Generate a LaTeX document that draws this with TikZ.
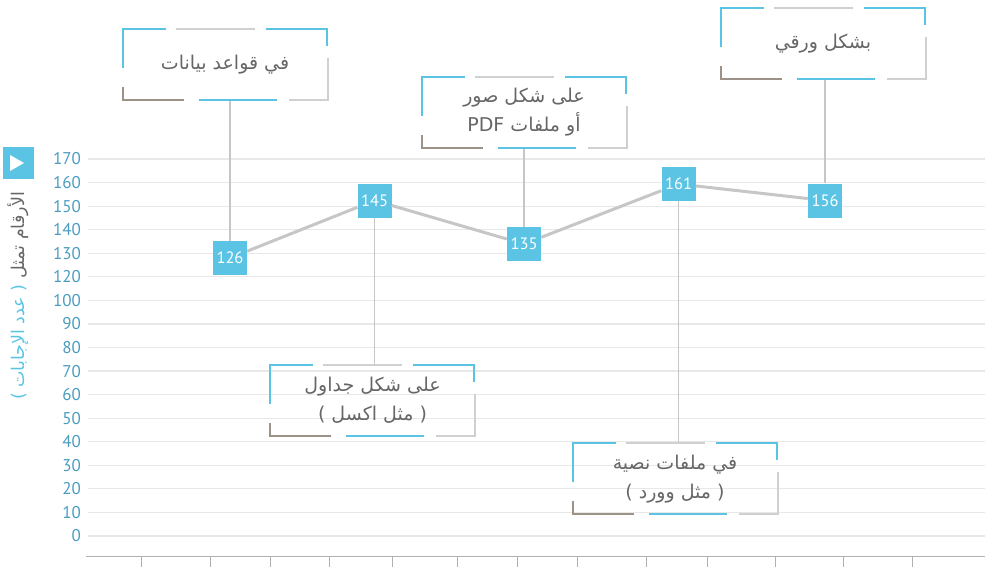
\documentclass[tikz,border=0pt]{standalone}
\usepackage{fontspec}
\newfontfamily\arabicfont[Script=Arabic]{DejaVu Sans}
\newfontfamily\numfont{PT Sans}
\TeXXeTstate=1
\definecolor{boxblue}{HTML}{5BC4E4}
\definecolor{axisblue}{HTML}{4A9CC0}
\definecolor{txtgray}{HTML}{666666}
\definecolor{gridgray}{HTML}{E8E8E8}
\definecolor{framegray}{HTML}{D0D0D0}
\definecolor{framebrown}{HTML}{9C9288}
\definecolor{linkgray}{HTML}{C6C6C6}
\definecolor{axisgray}{HTML}{B0B0B0}

\begin{document}
\begin{tikzpicture}[x=1pt,y=-1pt,
    value/.style={fill=boxblue,text=white,minimum size=34pt,inner sep=0pt,
      font=\numfont\fontsize{16.5}{16.5}\selectfont},
    callout/.style={minimum width=204pt,minimum height=71pt,inner sep=0pt,
      align=center,text=txtgray,font=\arabicfont\fontsize{19}{29}\selectfont},
    axisnum/.style={anchor=east,text=axisblue,inner sep=0pt,
      font=\numfont\fontsize{17}{17}\selectfont}]
  \def\ybot{536}
  \def\ystep{23.5625}
  \def\framewidth{2pt}

  \useasboundingbox (0,0) rectangle (988,567);

  % grid lines and values
  \foreach \v [count=\k from 0] in {0,10,20,30,40,50,60,70,80,90,100,120,130,140,150,160,170}
  {
    \draw[gridgray,line width=1.2pt] (88,\ybot-\k*\ystep) -- (985,\ybot-\k*\ystep);
    \node[axisnum] at (81,\ybot-\k*\ystep) {\v};
  }

  % bottom axis
  \draw[axisgray,line width=1pt] (86,556) -- (985,556);
  \foreach \x in {141,210,270,329,392,457,517,577,646,707,775,843,912}
    \draw[axisgray,line width=1pt] (\x,556) -- (\x,567);

  % axis title
  \node[fill=boxblue,minimum size=31pt,inner sep=0pt] (icon) at (18,163) {};
  \fill[white] (icon.center) ++(-8,-8) -- ++(14,8) -- ++(-14,8) -- cycle;
  \node[rotate=90,inner sep=0pt,font=\arabicfont\fontsize{17.5}{17.5}\selectfont] (ytitle) at (18,296)
    {\color{boxblue}) \beginR عدد الإجابات\endR\ (\ \color{txtgray}\beginR الأرقام تمثل\endR};

  % values
  \node[value] (n126) at (230,258) {126};
  \node[value] (n145) at (374.5,200.5) {145};
  \node[value] (n135) at (524,244) {135};
  \node[value] (n161) at (678.5,184) {161};
  \node[value] (n156) at (825,200.5) {156};
  \draw[linkgray,line width=3pt] (n126) -- (n145) -- (n135) -- (n161) -- (n156);

  % callouts
  \node[callout] (qa) at (225,64.5) {\beginR في قواعد بيانات\endR};
  \node[callout] (pdf) at (524,112.5)
    {\beginR على شكل صور\endR\\\beginR أو ملفات \beginL PDF\endL\endR};
  \node[callout] (paper) at (823,43.5) {\beginR بشكل ورقي\endR};
  \node[callout] (tbl) at (372.5,400.5)
    {\beginR على شكل جداول\endR\\) \beginR مثل اكسل\endR\ (};
  \node[callout] (txt) at (675,479)
    {\beginR في ملفات نصية\endR\\) \beginR مثل وورد\endR\ (};

  \draw[linkgray,line width=1.5pt] (n126) -- (n126 |- qa.south);
  \draw[linkgray,line width=1.5pt] (n135) -- (n135 |- pdf.south);
  \draw[linkgray,line width=1.5pt] (n156) -- (n156 |- paper.south);
  \draw[linkgray,line width=1.5pt] (n145) -- (n145 |- tbl.north);
  \draw[linkgray,line width=1.5pt] (n161) -- (n161 |- txt.north);

  % broken frames
  \foreach \b in {qa,pdf,paper,tbl,txt}
  {
    \begin{scope}[shift={(\b.north west)},line width=\framewidth]
      \draw[boxblue] (0,39) -- (0,0) -- (43,0);
      \draw[framegray] (53,0) -- (132,0);
      \draw[boxblue] (143,0) -- (204,0) -- (204,17);
      \draw[framegray] (205,29) -- (205,71) -- (166,71);
      \draw[boxblue] (154,71) -- (76,71);
      \draw[framebrown] (61,71) -- (0,71) -- (0,58);
    \end{scope}
  }
\end{tikzpicture}
\end{document}
